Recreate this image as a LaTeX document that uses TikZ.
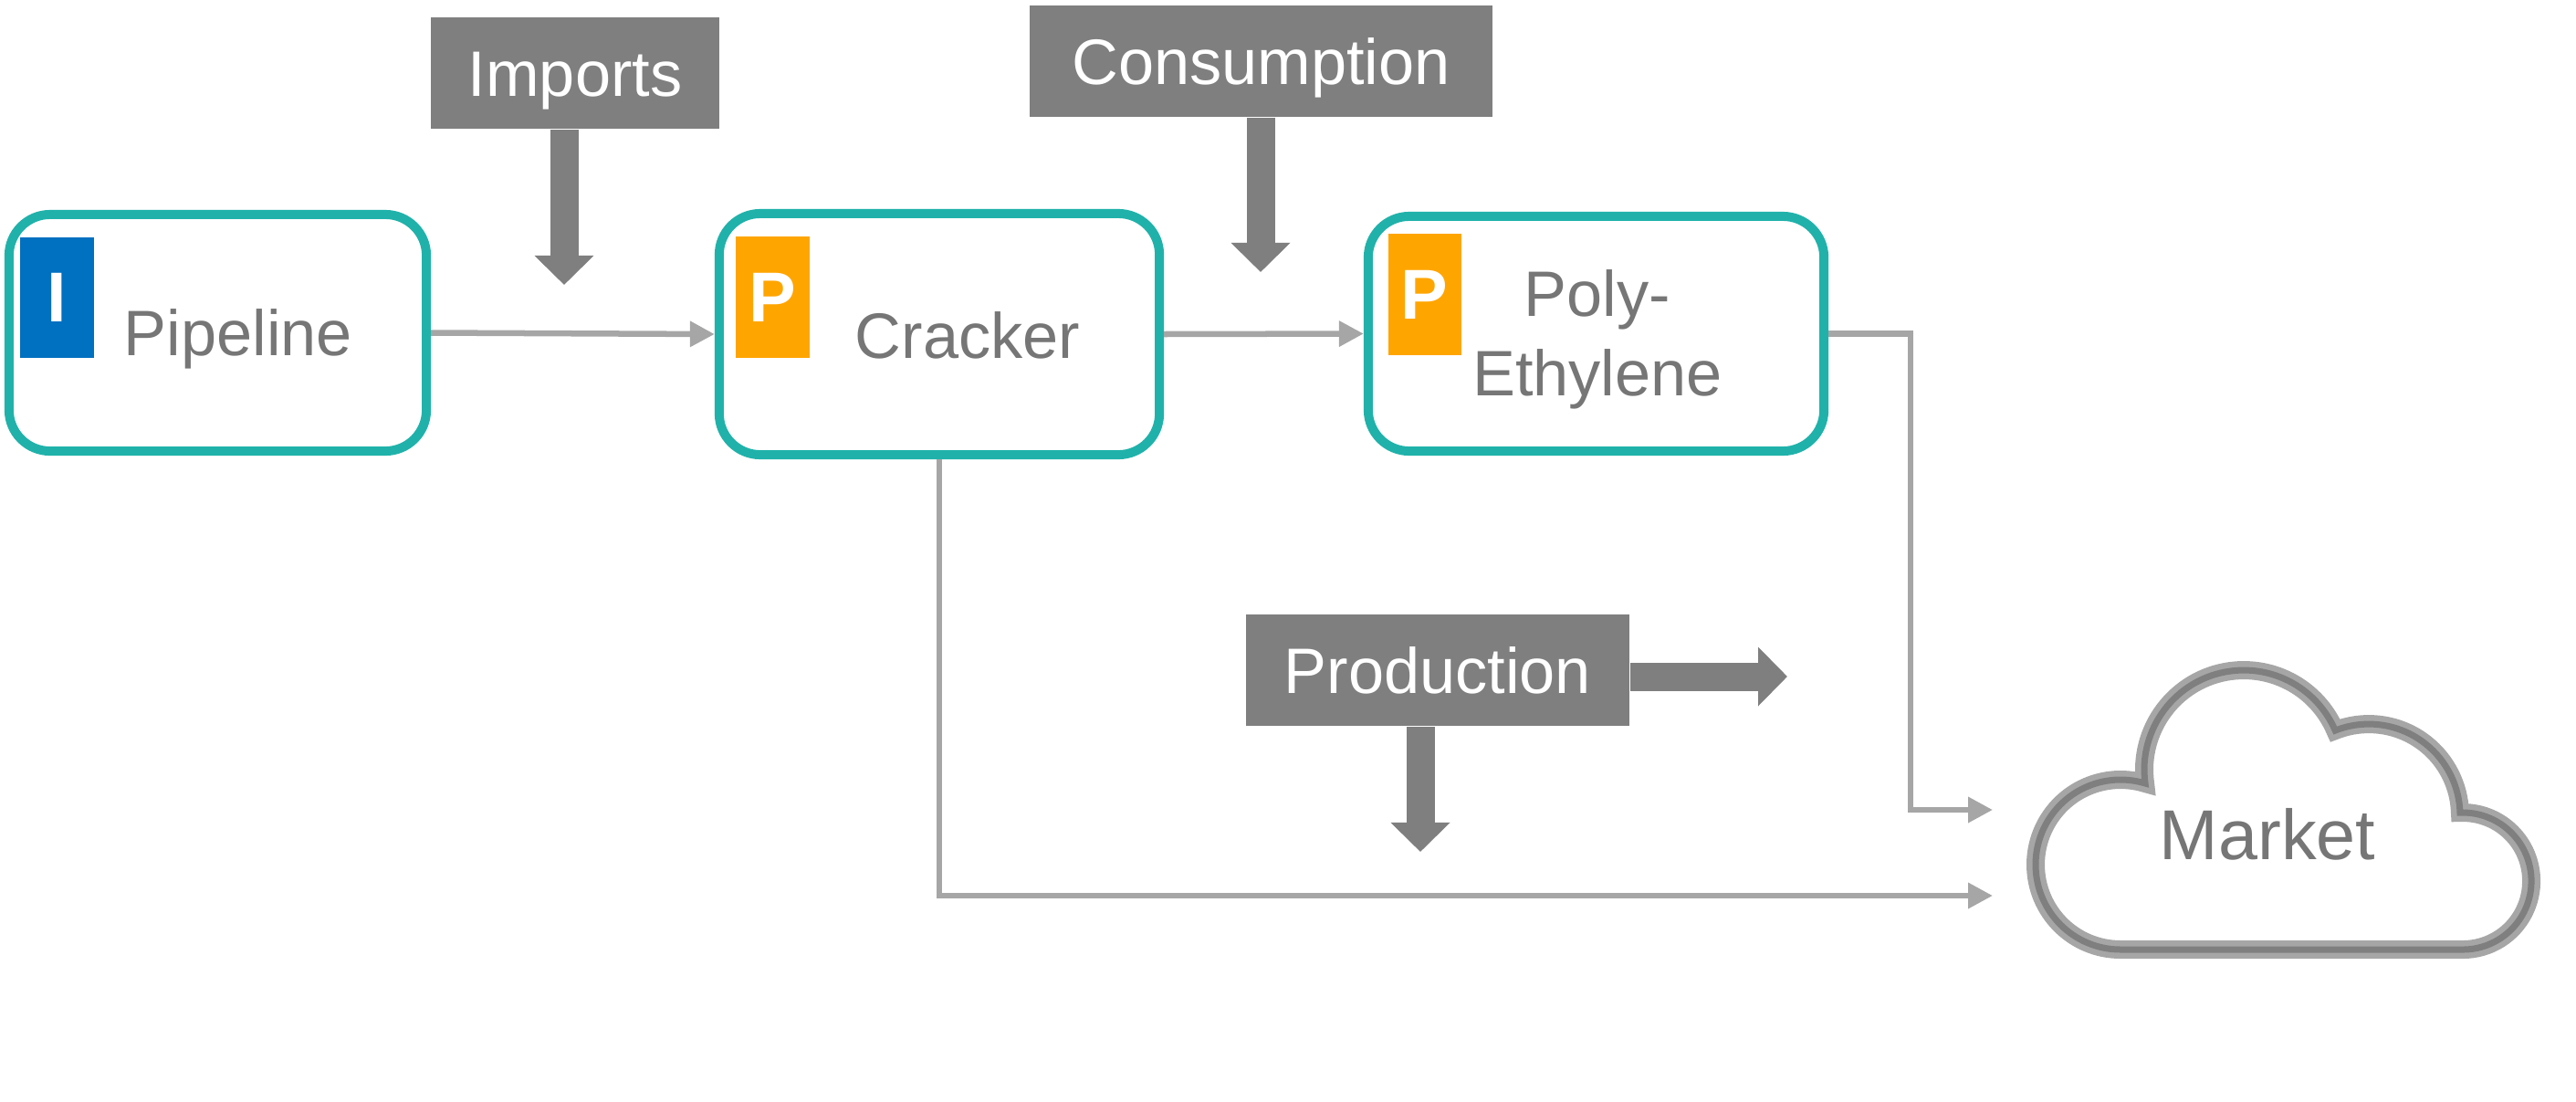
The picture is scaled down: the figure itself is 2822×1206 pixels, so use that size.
\documentclass[tikz,border=0pt]{standalone}
\usepackage{fontspec}
\setmainfont{Liberation Sans}
\usetikzlibrary{arrows.meta,positioning}

\definecolor{boxteal}{HTML}{20B2AA}
\definecolor{tagblue}{HTML}{0070C0}
\definecolor{tagorange}{HTML}{FFA500}
\definecolor{flowgray}{HTML}{7F7F7F}
\definecolor{linegray}{HTML}{A6A6A6}
\definecolor{textgray}{HTML}{767676}

\newcommand{\lblfont}{\fontsize{20}{24}\selectfont}

\begin{document}
\begin{tikzpicture}[x=0.01cm,y=-0.01cm]
\tikzstyle{unit}=[draw=boxteal, line width=0.1cm, rounded corners=0.45cm, fill=white]
\tikzstyle{tag}=[minimum width=0.8cm, minimum height=1.32cm, inner sep=0pt, text=white, font=\fontsize{22}{26}\selectfont\bfseries]
\tikzstyle{lbl}=[text=textgray, font=\lblfont, anchor=base, inner sep=0pt]
\tikzstyle{flow}=[fill=flowgray, text=white, font=\lblfont, minimum height=1.22cm, inner sep=0pt, text height=0.5cm, text depth=0pt]
\tikzstyle{fat}=[draw=flowgray, line width=0.31cm, -{Triangle[width=0.63cm,length=0.32cm]}]
\tikzstyle{link}=[draw=linegray, line width=0.065cm, -{Triangle[width=0.27cm,length=0.27cm]}]
\useasboundingbox (0,0) rectangle (2822,1206);

% units
\node[unit, minimum width=4.57cm, minimum height=2.59cm] (pipe) at (238.5,364.5) {};
\node[unit, minimum width=4.82cm, minimum height=2.64cm] (crack) at (1029,366) {};
\node[unit, minimum width=4.99cm, minimum height=2.57cm] (poly) at (1748.5,365.5) {};
\node[tag, fill=tagblue] (pipetag) at (62.5,326) {I};
\node[tag, fill=tagorange] (cracktag) at (846.5,325.5) {P};
\node[tag, fill=tagorange] (polytag) at (1560.5,322.5) {P};
\node[lbl] (pipetxt) at (261,389) {Pipeline};
\node[lbl] (cracktxt) at (1060,392) {Cracker};
\node[lbl] (polytxt) at (1750,346) {Poly-};
\node[lbl] (ethtxt) at (1750,433) {Ethylene};

% flows
\node[flow, minimum width=3.16cm] (imp) at (630,80) {Imports};
\node[flow, minimum width=5.07cm] (cons) at (1381.5,67) {Consumption};
\node[flow, minimum width=4.20cm] (prod) at (1575,734) {Production};
\coordinate (impend) at (618,312);
\coordinate (consend) at (1381,298);
\coordinate (prodend) at (1556,933);
\coordinate (prodout) at (1958,741);
\draw[fat] (imp.south -| impend) -- (impend);
\draw[fat] (cons.south -| consend) -- (consend);
\draw[fat] (prod.south -| prodend) -- (prodend);
\draw[fat] (prod.east |- prodout) -- (prodout);

% market
\draw[draw=linegray, double=flowgray, double distance=0.07cm, line width=0.065cm, fill=white]
  (2323,1040) arc[start angle=90, end angle=286.9, radius=93]
  arc[start angle=172.1, end angle=336.8, radius=109]
  arc[start angle=248.4, end angle=358.3, radius=100]
  arc[start angle=267.6, end angle=450, radius=75] -- cycle;
\node[text=textgray, font=\fontsize{22}{26}\selectfont, anchor=base, inner sep=0pt] (mkt) at (2484,941) {Market};
\coordinate (mktin1) at (2183,887);
\coordinate (mktin2) at (2183,981);

% links
\draw[link] (pipe.east) -- (crack.west);
\draw[link] (crack.east) -- (poly.west);
\draw[link] (poly.east) -- ++(90,0) |- (mktin1);
\draw[link] (crack.south) |- (mktin2);
\end{tikzpicture}
\end{document}
